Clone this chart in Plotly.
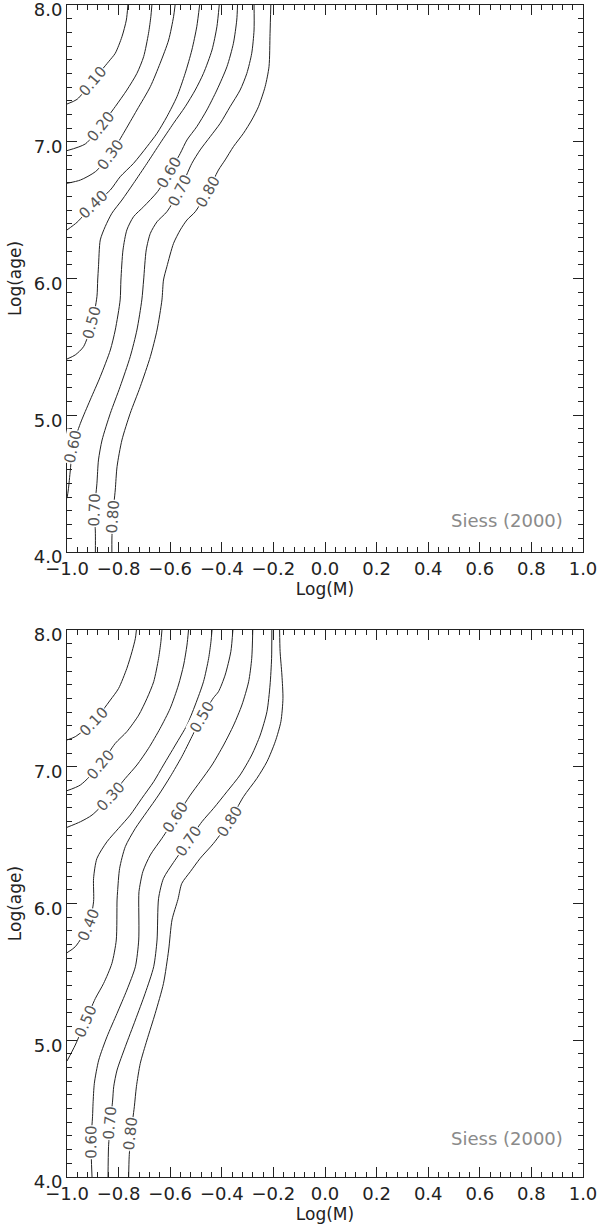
import math
import plotly.graph_objects as go

# ---------- data ----------
LEVELS = ["0.10", "0.20", "0.30", "0.40", "0.50", "0.60", "0.70", "0.80"]

# upper panel: one traced polyline per level, from the top edge downwards
TOP_X = [
    [-0.764, -0.770, -0.787, -0.813, -0.839, -0.903, -0.961, -1.0],
    [-0.671, -0.675, -0.684, -0.703, -0.729, -0.768, -0.813, -0.871, -0.929, -1.0],
    [-0.581, -0.587, -0.606, -0.639, -0.677, -0.729, -0.781, -0.832, -0.890, -0.948, -1.0],
    [-0.486, -0.497, -0.516, -0.542, -0.574, -0.613, -0.651, -0.690, -0.742, -0.794, -0.832,
     -0.899, -0.961, -1.0],
    [-0.410, -0.419, -0.438, -0.471, -0.503, -0.542, -0.587, -0.639, -0.690, -0.742, -0.787,
     -0.826, -0.852, -0.871, -0.878, -0.881, -0.884, -0.903, -0.936, -0.968, -1.0],
    [-0.339, -0.342, -0.355, -0.380, -0.419, -0.458, -0.497, -0.535, -0.561, -0.604, -0.649,
     -0.703, -0.742, -0.768, -0.783, -0.791, -0.794, -0.813, -0.832, -0.871, -0.910, -0.948,
     -0.978, -0.987, -0.995, -1.0],
    [-0.275, -0.275, -0.284, -0.303, -0.329, -0.368, -0.406, -0.445, -0.484, -0.516, -0.564,
     -0.613, -0.651, -0.677, -0.693, -0.703, -0.710, -0.729, -0.755, -0.794, -0.832, -0.864,
     -0.878, -0.884, -0.893, -0.890, -0.890],
    [-0.210, -0.213, -0.217, -0.232, -0.258, -0.284, -0.316, -0.355, -0.387, -0.413, -0.455,
     -0.503, -0.535, -0.561, -0.587, -0.613, -0.626, -0.632, -0.651, -0.677, -0.716, -0.755,
     -0.787, -0.806, -0.813, -0.823, -0.826, -0.826],
]
TOP_Y = [
    [8.0, 7.890, 7.768, 7.647, 7.585, 7.440, 7.310, 7.276],
    [8.0, 7.915, 7.793, 7.622, 7.500, 7.378, 7.257, 7.110, 6.984, 6.935],
    [8.0, 7.914, 7.744, 7.574, 7.403, 7.232, 7.062, 6.903, 6.781, 6.720, 6.696],
    [8.0, 7.841, 7.671, 7.500, 7.329, 7.183, 7.062, 6.964, 6.842, 6.744, 6.647,
     6.537, 6.411, 6.355],
    [8.0, 7.841, 7.671, 7.500, 7.378, 7.256, 7.135, 6.989, 6.842, 6.696, 6.574,
     6.477, 6.379, 6.282, 6.086, 5.989, 5.867, 5.672, 5.501, 5.441, 5.411],
    [8.0, 7.890, 7.720, 7.549, 7.378, 7.232, 7.110, 7.013, 6.915, 6.769, 6.635,
     6.525, 6.452, 6.355, 6.208, 5.989, 5.843, 5.623, 5.477, 5.282, 5.112, 4.941,
     4.770, 4.600, 4.453, 4.393],
    [8.0, 7.817, 7.647, 7.500, 7.378, 7.256, 7.135, 7.037, 6.940, 6.842, 6.642,
     6.488, 6.415, 6.330, 6.208, 5.989, 5.843, 5.623, 5.428, 5.209, 5.014, 4.819,
     4.673, 4.502, 4.307, 4.137, 4.0],
    [8.0, 7.793, 7.549, 7.403, 7.256, 7.159, 7.062, 6.964, 6.867, 6.793, 6.635,
     6.488, 6.428, 6.355, 6.257, 6.086, 5.989, 5.843, 5.623, 5.428, 5.209, 5.014,
     4.819, 4.624, 4.453, 4.258, 4.087, 4.0],
]
TOP_LABEL_AT = [[5], [7], [7], [11], [17], [9, 22], [10, 24], [10, 25]]

# lower panel
BOTTOM_X = [
    [-0.731, -0.735, -0.748, -0.768, -0.800, -0.832, -0.897, -0.968, -1.0],
    [-0.632, -0.636, -0.645, -0.664, -0.690, -0.722, -0.768, -0.813, -0.871, -0.948, -1.0],
    [-0.529, -0.535, -0.548, -0.568, -0.600, -0.639, -0.684, -0.729, -0.774, -0.832, -0.903,
     -0.948, -1.0],
    [-0.438, -0.442, -0.451, -0.471, -0.503, -0.535, -0.580, -0.626, -0.664, -0.710, -0.755,
     -0.800, -0.845, -0.884, -0.897, -0.897, -0.916, -0.968, -1.0],
    [-0.357, -0.365, -0.387, -0.413, -0.432, -0.477, -0.516, -0.555, -0.600, -0.645, -0.690,
     -0.735, -0.774, -0.796, -0.804, -0.806, -0.809, -0.826, -0.858, -0.890, -0.929, -0.968,
     -1.0],
    [-0.280, -0.284, -0.296, -0.322, -0.354, -0.393, -0.438, -0.484, -0.522, -0.578, -0.632,
     -0.677, -0.706, -0.721, -0.722, -0.722, -0.735, -0.768, -0.806, -0.845, -0.877, -0.894,
     -0.899, -0.901, -0.907, -0.903],
    [-0.206, -0.207, -0.213, -0.225, -0.251, -0.284, -0.329, -0.380, -0.432, -0.477, -0.531,
     -0.587, -0.626, -0.645, -0.651, -0.664, -0.697, -0.735, -0.774, -0.806, -0.819, -0.823,
     -0.832, -0.839, -0.841],
    [-0.176, -0.174, -0.167, -0.163, -0.171, -0.193, -0.225, -0.264, -0.316, -0.371, -0.432,
     -0.484, -0.522, -0.555, -0.570, -0.593, -0.606, -0.626, -0.658, -0.690, -0.716, -0.731,
     -0.739, -0.752, -0.759, -0.761],
]
BOTTOM_Y = [
    [8.0, 7.939, 7.842, 7.720, 7.573, 7.488, 7.330, 7.220, 7.196],
    [8.0, 7.915, 7.793, 7.622, 7.500, 7.378, 7.257, 7.171, 7.013, 6.867, 6.825],
    [8.0, 7.890, 7.744, 7.598, 7.427, 7.281, 7.135, 7.013, 6.915, 6.781, 6.647,
     6.598, 6.557],
    [8.0, 7.915, 7.793, 7.622, 7.452, 7.305, 7.159, 7.013, 6.891, 6.769, 6.647,
     6.550, 6.452, 6.330, 6.184, 6.013, 5.843, 5.684, 5.640],
    [8.0, 7.842, 7.671, 7.549, 7.505, 7.366, 7.220, 7.074, 6.927, 6.793, 6.672,
     6.550, 6.416, 6.257, 6.087, 6.026, 5.733, 5.562, 5.416, 5.306, 5.136, 4.965,
     4.848],
    [8.0, 7.793, 7.622, 7.452, 7.305, 7.159, 7.013, 6.891, 6.793, 6.630, 6.477,
     6.355, 6.233, 6.087, 6.026, 5.733, 5.538, 5.367, 5.197, 5.026, 4.855, 4.685,
     4.539, 4.441, 4.258, 4.0],
    [8.0, 7.793, 7.598, 7.403, 7.232, 7.086, 6.940, 6.818, 6.696, 6.598, 6.452,
     6.301, 6.184, 6.038, 5.733, 5.538, 5.343, 5.148, 4.953, 4.782, 4.660, 4.563,
     4.392, 4.222, 4.0],
    [8.0, 7.842, 7.671, 7.500, 7.330, 7.183, 7.037, 6.915, 6.781, 6.598, 6.440,
     6.330, 6.233, 6.147, 6.030, 5.880, 5.660, 5.416, 5.197, 5.002, 4.831, 4.660,
     4.514, 4.319, 4.148, 4.0],
]
BOTTOM_LABEL_AT = [[6], [8], [9], [16], [5, 20], [9, 24], [10, 22], [9, 23]]

X_TICKS = [-1.0, -0.8, -0.6, -0.4, -0.2, 0.0, 0.2, 0.4, 0.6, 0.8, 1.0]
Y_TICKS = [4.0, 5.0, 6.0, 7.0, 8.0]
X_RANGE = [-1.0, 1.0]
Y_RANGE = [4.0, 8.0]
SOURCE = "Siess (2000)"

# ---------- layout constants ----------
W, H = 600, 1231
MARGIN = dict(l=67, r=17, t=5, b=54)
TOP_DOMAIN = [0.5333, 1.0]
BOTTOM_DOMAIN = [0.0, 0.4667]
FONT = "DejaVu Sans"
INK = "#222222"

plot_w = W - MARGIN["l"] - MARGIN["r"]
plot_h = (H - MARGIN["t"] - MARGIN["b"]) * (TOP_DOMAIN[1] - TOP_DOMAIN[0])
px_per_x = plot_w / (X_RANGE[1] - X_RANGE[0])
px_per_y = plot_h / (Y_RANGE[1] - Y_RANGE[0])


def label_angle(xs, ys, i):
    """Screen angle of the line at point i, so the label reads along it."""
    dx = (xs[min(i + 1, len(xs) - 1)] - xs[max(i - 1, 0)]) * px_per_x
    dy = (ys[min(i + 1, len(ys) - 1)] - ys[max(i - 1, 0)]) * px_per_y
    if dy < 0:
        dx, dy = -dx, -dy
    ang = -math.degrees(math.atan2(dy, dx))
    if ang < -90:
        ang += 180
    return ang


fig = go.Figure()
annotations = []

panels = [
    ("x", "y", TOP_X, TOP_Y, TOP_LABEL_AT, 0.058),
    ("x2", "y2", BOTTOM_X, BOTTOM_Y, BOTTOM_LABEL_AT, 0.071),
]
for xref, yref, xs_all, ys_all, label_at, src_y in panels:
    for level, xs, ys, idxs in zip(LEVELS, xs_all, ys_all, label_at):
        fig.add_trace(go.Scatter(
            x=xs, y=ys, xaxis=xref, yaxis=yref, mode="lines",
            line=dict(color=INK, width=1, shape="spline", smoothing=0.7),
            showlegend=False, hoverinfo="skip",
        ))
        for i in idxs:
            annotations.append(dict(
                x=xs[i], y=ys[i], xref=xref, yref=yref, text=level,
                showarrow=False, textangle=label_angle(xs, ys, i),
                font=dict(family=FONT, size=15, color="#555555"),
                bgcolor="white", borderpad=0,
            ))
    annotations.append(dict(
        x=0.965, y=src_y, xref=f"{xref} domain", yref=f"{yref} domain",
        xanchor="right", yanchor="middle", text=SOURCE, showarrow=False,
        font=dict(family=FONT, size=18, color="#8a8a8a"),
    ))

xaxis_style = dict(
    range=X_RANGE, tickmode="array", tickvals=X_TICKS, tickformat=".1f",
    ticks="inside", ticklen=10, tickwidth=1, tickcolor=INK,
    minor=dict(tickmode="linear", tick0=-1.0, dtick=0.04, ticks="inside",
               ticklen=5, tickcolor=INK),
    showline=True, linecolor=INK, linewidth=1, mirror="allticks",
    showgrid=False, zeroline=False, automargin=False, ticklabeloverflow="allow",
    tickfont=dict(family=FONT, size=18, color=INK),
    title=dict(text="Log(M)", font=dict(family=FONT, size=17, color=INK), standoff=3),
)
yaxis_style = dict(
    range=Y_RANGE, tickmode="array", tickvals=Y_TICKS, tickformat=".1f",
    ticks="inside", ticklen=10, tickwidth=1, tickcolor=INK,
    minor=dict(tickmode="linear", tick0=4.0, dtick=0.1, ticks="inside",
               ticklen=5, tickcolor=INK),
    showline=True, linecolor=INK, linewidth=1, mirror="allticks",
    showgrid=False, zeroline=False, automargin=False, ticklabeloverflow="allow",
    ticklabelshift=5,
    tickfont=dict(family=FONT, size=18, color=INK),
    title=dict(text="Log(age)", font=dict(family=FONT, size=17, color=INK), standoff=7),
)

fig.update_layout(
    width=W, height=H, margin=MARGIN,
    paper_bgcolor="white", plot_bgcolor="white",
    xaxis=dict(xaxis_style, domain=[0, 1], anchor="y"),
    yaxis=dict(yaxis_style, domain=TOP_DOMAIN, anchor="x"),
    xaxis2=dict(xaxis_style, domain=[0, 1], anchor="y2"),
    yaxis2=dict(yaxis_style, domain=BOTTOM_DOMAIN, anchor="x2"),
    annotations=annotations,
    showlegend=False,
)

# the page body has a default 8px margin; drop it so the figure sits at 0,0
fig.write_html("out.html", config={"displayModeBar": False},
               post_script="document.body.style.margin = '0';")
